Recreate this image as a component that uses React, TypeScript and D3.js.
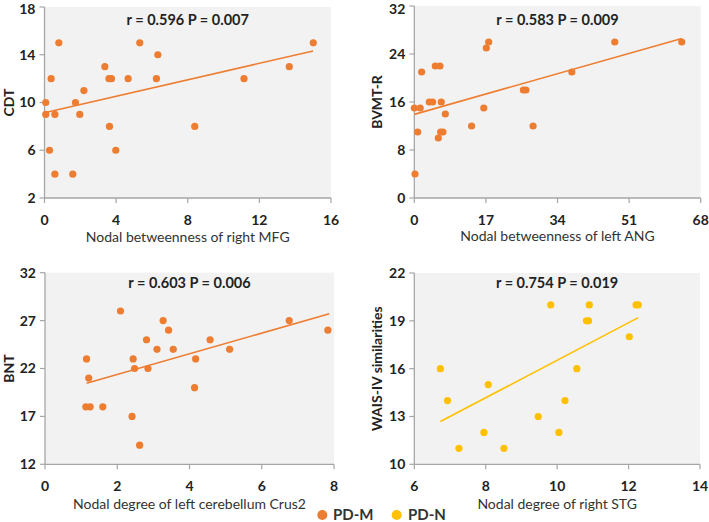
import React from "react";
import * as d3 from "d3";

// Panel A: CDT vs nodal betweenness of right MFG (PD-M)
const mfgX = [0.8, 0.07, 0.07, 0.37, 0.58, 0.28, 0.58, 1.58, 1.73, 1.97, 2.2, 3.37, 3.6, 3.74, 3.63, 3.98, 4.67, 5.32, 6.33, 6.25, 8.39, 11.14, 13.67, 15.01];
const cdtY = [15, 10, 9, 12, 9, 6, 4, 4, 10, 9, 11, 13, 12, 12, 8, 6, 12, 15, 14, 12, 8, 12, 13, 15];
const fitA = [0, 15, 9.14, 14.32]; // x0, x1, y0, y1

// Panel B: BVMT-R vs nodal betweenness of left ANG (PD-M)
const angX = [0.16, 0, 1.4, 0.8, 1.74, 3.56, 4.35, 4.99, 6.1, 6.4, 5.7, 6.25, 6.8, 7.36, 13.6, 16.5, 17.1, 17.66, 25.9, 26.5, 28.2, 37.4, 47.6, 63.5];
const bvmtY = [4, 15, 15, 11, 21, 16, 16, 22, 22, 16, 10, 11, 11, 14, 12, 15, 25, 26, 18, 18, 12, 21, 26, 26];
const fitB = [0, 63.5, 13.94, 26.6];

// Panel C: BNT vs nodal degree of left cerebellum Crus2 (PD-M)
const crusX = [1.15, 1.21, 1.13, 1.25, 1.6, 2.09, 2.41, 2.44, 2.48, 2.62, 2.81, 2.85, 3.1, 3.27, 3.42, 3.55, 4.14, 4.17, 4.57, 5.11, 6.76, 7.83];
const bntY = [23, 21, 18, 18, 18, 28, 17, 23, 22, 14, 25, 22, 24, 27, 26, 24, 20, 23, 25, 24, 27, 26];
const fitC = [1.15, 7.87, 20.45, 27.72];

// Panel D: WAIS-IV similarities vs nodal degree of right STG (PD-N)
const stgX = [6.73, 6.93, 7.25, 7.95, 8.07, 8.51, 9.47, 9.82, 10.05, 10.22, 10.55, 10.82, 10.88, 10.9, 12.02, 12.21, 12.27];
const waisY = [16, 14, 11, 12, 15, 11, 13, 20, 12, 14, 16, 19, 19, 20, 18, 20, 20];
const fitD = [6.73, 12.27, 12.68, 19.2];

const titles = ["r = 0.596 P = 0.007", "r = 0.583 P = 0.009", "r = 0.603 P = 0.006", "r = 0.754 P = 0.019"];
const xTitles = ["Nodal betweenness of right MFG", "Nodal betweenness of left ANG", "Nodal degree of left cerebellum Crus2", "Nodal degree of right STG"];
const yTitles = ["CDT", "BVMT-R", "BNT", "WAIS-IV similarities"];
const xTicksA = [0, 4, 8, 12, 16];
const yTicksA = [2, 6, 10, 14, 18];
const xTicksB = [0, 17, 34, 51, 68];
const yTicksB = [0, 8, 16, 24, 32];
const xTicksC = [0, 2, 4, 6, 8];
const yTicksC = [12, 17, 22, 27, 32];
const xTicksD = [6, 8, 10, 12, 14];
const yTicksD = [10, 13, 16, 19, 22];
const groups = ["PD-M", "PD-N"];

const ORANGE = "#ED7D31";
const YELLOW = "#FFC000";
const FONT = "Lato, 'Open Sans', sans-serif";

type PanelProps = {
  xs: number[]; ys: number[]; fit: number[];
  xTicks: number[]; yTicks: number[];
  title: string; xTitle: string; yTitle: string;
  left: number; right: number; top: number; bottom: number;
  yTitleX: number; titleY: number; xTitleY: number;
  color: string;
};

function Panel(p: PanelProps) {
  const x = d3.scaleLinear().domain([p.xTicks[0], p.xTicks[p.xTicks.length - 1]]).range([p.left, p.right]);
  const y = d3.scaleLinear().domain([p.yTicks[0], p.yTicks[p.yTicks.length - 1]]).range([p.bottom, p.top]);
  const line = d3.line<[number, number]>().x(d => x(d[0])).y(d => y(d[1]));
  const cx = (p.left + p.right) / 2;
  const axisColor = "#a6a6a6";
  return (
    <g>
      <rect x={p.left} y={p.top} width={p.right - p.left} height={p.bottom - p.top} fill="#f2f2f2" />
      <line x1={p.left} x2={p.left} y1={p.top} y2={p.bottom} stroke={axisColor} strokeWidth={1.3} />
      <line x1={p.left} x2={p.right} y1={p.bottom} y2={p.bottom} stroke={axisColor} strokeWidth={1.3} />
      {p.yTicks.map(t => (
        <g key={"y" + t}>
          <line x1={p.left - 5} x2={p.left} y1={y(t)} y2={y(t)} stroke={axisColor} strokeWidth={1.2} />
          <text x={p.left - 9} y={Math.max(y(t), 9)} dy="0.35em" textAnchor="end" fontSize={14} fontWeight="bold" fill="#222" fontFamily={FONT}>{t}</text>
        </g>
      ))}
      {p.xTicks.map(t => (
        <g key={"x" + t}>
          <line x1={x(t)} x2={x(t)} y1={p.bottom} y2={p.bottom + 5} stroke={axisColor} strokeWidth={1.2} />
          <text x={x(t)} y={p.bottom + 27} textAnchor="middle" fontSize={14} fontWeight="bold" fill="#222" fontFamily={FONT}>{t}</text>
        </g>
      ))}
      <path d={line([[p.fit[0], p.fit[2]], [p.fit[1], p.fit[3]]]) || ""} stroke={p.color} strokeWidth={1.6} fill="none" />
      {p.xs.map((v, i) => (
        <circle key={i} cx={x(v)} cy={y(p.ys[i])} r={3.6} fill={p.color} />
      ))}
      <text x={cx} y={p.titleY} textAnchor="middle" fontSize={14.5} fontWeight="bold" fill="#222" fontFamily={FONT}>{p.title}</text>
      <text x={cx} y={p.xTitleY} textAnchor="middle" fontSize={14} fill="#333" fontFamily={FONT}>{p.xTitle}</text>
      <text transform={`translate(${p.yTitleX},${(p.top + p.bottom) / 2}) rotate(-90)`} dy="0.35em" textAnchor="middle" fontSize={14} fontWeight="bold" fill="#222" fontFamily={FONT}>{p.yTitle}</text>
    </g>
  );
}

export default function App() {
  return (
    <svg width={709} height={522} style={{ position: "absolute", left: 0, top: 0, background: "#fff" }}>
      <Panel xs={mfgX} ys={cdtY} fit={fitA} xTicks={xTicksA} yTicks={yTicksA} title={titles[0]} xTitle={xTitles[0]} yTitle={yTitles[0]}
        left={44.5} right={331} top={7} bottom={198} yTitleX={9} titleY={25} xTitleY={242} color={ORANGE} />
      <Panel xs={angX} ys={bvmtY} fit={fitB} xTicks={xTicksB} yTicks={yTicksB} title={titles[1]} xTitle={xTitles[1]} yTitle={yTitles[1]}
        left={414.3} right={700.7} top={6} bottom={198} yTitleX={377} titleY={25} xTitleY={241} color={ORANGE} />
      <Panel xs={crusX} ys={bntY} fit={fitC} xTicks={xTicksC} yTicks={yTicksC} title={titles[2]} xTitle={xTitles[2]} yTitle={yTitles[2]}
        left={45} right={334} top={272.7} bottom={464.3} yTitleX={9} titleY={288} xTitleY={509} color={ORANGE} />
      <Panel xs={stgX} ys={waisY} fit={fitD} xTicks={xTicksD} yTicks={yTicksD} title={titles[3]} xTitle={xTitles[3]} yTitle={yTitles[3]}
        left={414.3} right={700} top={273} bottom={464.3} yTitleX={377} titleY={288} xTitleY={509} color={YELLOW} />
      <g fontFamily={FONT} fontSize={15} fontWeight="bold" fill="#333">
        <circle cx={322.3} cy={515} r={5} fill={ORANGE} />
        <text x={333} y={515} dy="0.35em">{groups[0]}</text>
        <circle cx={396.7} cy={515} r={5} fill={YELLOW} />
        <text x={408} y={515} dy="0.35em">{groups[1]}</text>
      </g>
    </svg>
  );
}
